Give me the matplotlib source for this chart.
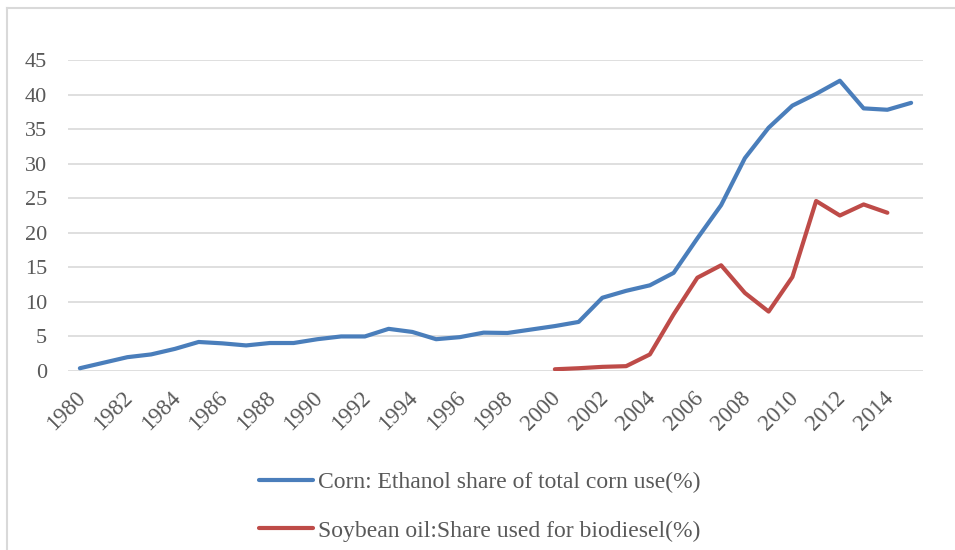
import matplotlib
matplotlib.use("Agg")
import matplotlib.pyplot as plt
from matplotlib.lines import Line2D
from matplotlib.transforms import ScaledTranslation
import numpy as np

years = list(range(1980, 2016))
corn_ethanol = [0.4, 1.2, 2.0, 2.4, 3.2, 4.2, 4.0, 3.7, 4.05, 4.05,
                4.6, 5.0, 5.0, 6.1, 5.65, 4.6, 4.9, 5.55, 5.5, 6.0,
                6.5, 7.1, 10.6, 11.6, 12.4, 14.2, 19.2, 24.0, 30.8, 35.2,
                38.4, 40.1, 42.0, 38.0, 37.8, 38.8]
soy_years = list(range(2000, 2015))
soy_biodiesel = [0.25, 0.4, 0.6, 0.7, 2.4, 8.2, 13.5, 15.3, 11.3, 8.6,
                 13.6, 24.6, 22.5, 24.1, 22.9]
tick_years = list(range(1980, 2015, 2))
yticks = list(range(0, 50, 5))

label_corn = "Corn: Ethanol share of total corn use(%)"
label_soy = "Soybean oil:Share used for biodiesel(%)"

blue = "#4A7EBB"
red = "#BE4B48"
txt = "#595959"
grid = "#D9D9D9"

plt.rcParams['font.family'] = ['Liberation Serif', 'DejaVu Serif']

W, H = 955, 550
fig = plt.figure(figsize=(W / 100, H / 100), dpi=100)
left, right, top, bottom = 68, 923, 60, 371
ax = fig.add_axes([left / W, 1 - bottom / H, (right - left) / W, (bottom - top) / H])

xi = {y: i for i, y in enumerate(years)}
ax.plot([xi[y] for y in years], corn_ethanol, color=blue, lw=3.0,
        solid_capstyle='round', solid_joinstyle='round', label=label_corn)
ax.plot([xi[y] for y in soy_years], soy_biodiesel, color=red, lw=3.0,
        solid_capstyle='round', solid_joinstyle='round', label=label_soy)

ax.set_xlim(-0.5, len(years) - 0.5)
ax.set_ylim(0, 45)
ax.set_yticks(yticks)
ax.set_yticklabels([str(v) for v in yticks], fontsize=16, color=txt)
ax.set_xticks([xi[y] for y in tick_years])
ax.set_xticklabels([str(y) for y in tick_years], fontsize=16.5, color=txt,
                   rotation=45, ha='right', va='top', rotation_mode='anchor')
ax.tick_params(axis='both', length=0)
ax.tick_params(axis='y', pad=15)
ax.tick_params(axis='x', pad=12)
off = ScaledTranslation(-5 / 100, 0, fig.dpi_scale_trans)
for lab in ax.get_xticklabels():
    lab.set_transform(lab.get_transform() + off)
for s in ax.spines.values():
    s.set_visible(False)
ax.yaxis.grid(True, color=grid, lw=1.2)
ax.set_axisbelow(True)

leg = fig.legend(loc='upper left', bbox_to_anchor=(259 / W, 1 - 472 / H),
                 frameon=False, fontsize=17, handlelength=2.29,
                 handletextpad=0.2, labelspacing=1.13, borderaxespad=0,
                 borderpad=0)
for t in leg.get_texts():
    t.set_color(txt)

# chart-area border (top and left visible)
fig.add_artist(Line2D([7 / W, 7 / W], [0, 1 - 8 / H], color=grid, lw=1.5,
                      transform=fig.transFigure))
fig.add_artist(Line2D([7 / W, 1], [1 - 8 / H, 1 - 8 / H], color=grid, lw=1.5,
                      transform=fig.transFigure))

fig.savefig("out.png", dpi=100, facecolor='white')
